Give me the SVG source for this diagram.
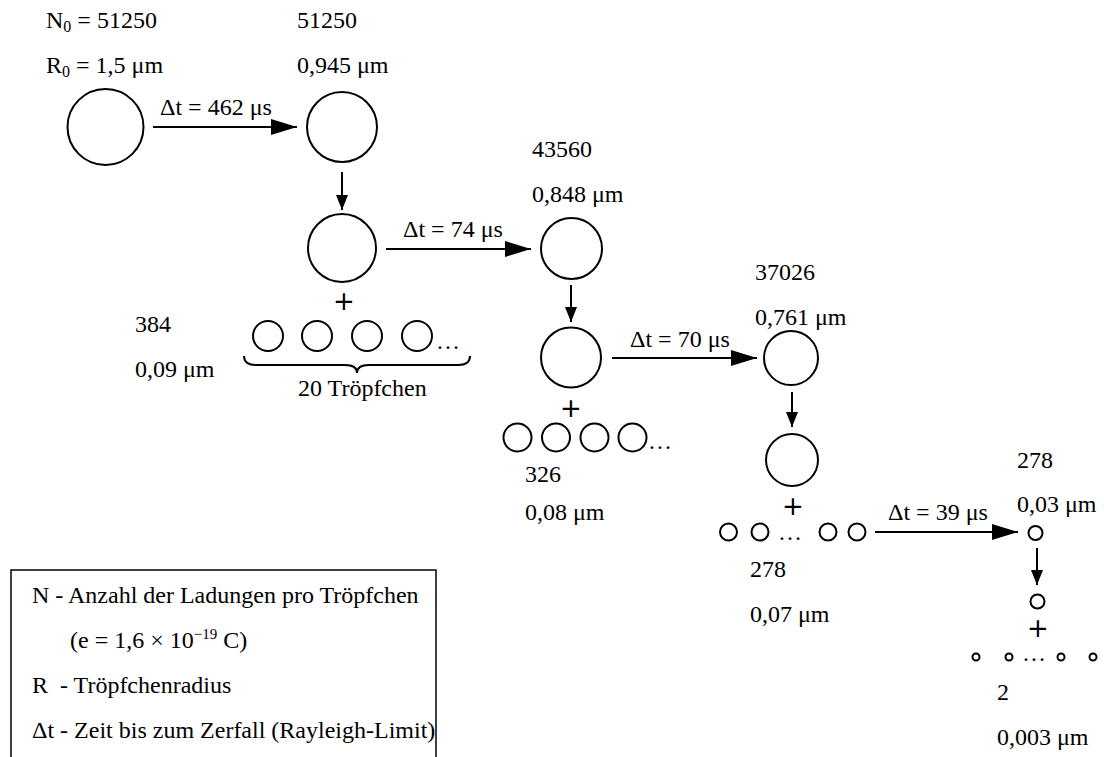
<svg xmlns="http://www.w3.org/2000/svg" width="1104" height="757" viewBox="0 0 1104 757">
<style>
text{font-family:"Liberation Serif","Times New Roman",serif;font-size:24px;fill:#000}
.c{fill:none;stroke:#000;stroke-width:2}
.ln{fill:none;stroke:#000;stroke-width:2}
.plus{font-family:"DejaVu Sans",sans-serif;font-size:26px;text-anchor:middle}
.sub{font-size:16px}
.sup{font-size:15px}
</style>
<defs>
<marker id="ah" markerUnits="userSpaceOnUse" markerWidth="28" markerHeight="20" refX="26" refY="8" orient="auto">
<path d="M0,0 L26,8 L0,16 Z" fill="#000"/>
</marker>
<marker id="av" markerUnits="userSpaceOnUse" markerWidth="16" markerHeight="14" refX="15" refY="6" orient="auto">
<path d="M0,0 L15,6 L0,12 Z" fill="#000"/>
</marker>
</defs>
<rect width="1104" height="757" fill="#fff"/>

<g id="connectors">
<line class="ln" x1="153" y1="127" x2="297" y2="127" marker-end="url(#ah)"/>
<line class="ln" x1="342" y1="172" x2="342" y2="210" marker-end="url(#av)"/>
<line class="ln" x1="386" y1="249" x2="531" y2="249" marker-end="url(#ah)"/>
<line class="ln" x1="571" y1="285" x2="571" y2="322" marker-end="url(#av)"/>
<line class="ln" x1="612" y1="358" x2="757" y2="358" marker-end="url(#ah)"/>
<line class="ln" x1="792" y1="392" x2="792" y2="427" marker-end="url(#av)"/>
<line class="ln" x1="875" y1="532" x2="1018" y2="532" marker-end="url(#ah)"/>
<line class="ln" x1="1037" y1="548" x2="1037" y2="585" marker-end="url(#av)"/>
<text x="160" y="115">Δt = 462 μs</text>
<text x="403" y="237">Δt = 74 μs</text>
<text x="630" y="347">Δt = 70 μs</text>
<text x="888" y="520">Δt = 39 μs</text>
</g>

<g id="drop0">
<circle class="c" cx="105.5" cy="127" r="38"/>
<text x="46" y="28">N<tspan class="sub" dy="4">0</tspan><tspan dy="-4"> = 51250</tspan></text>
<text x="46" y="73">R<tspan class="sub" dy="4">0</tspan><tspan dy="-4"> = 1,5 μm</tspan></text>
</g>

<g id="drop1">
<circle class="c" cx="342" cy="127" r="35"/>
<text x="297" y="28">51250</text>
<text x="297" y="73">0,945 μm</text>
</g>

<g id="split1">
<circle class="c" cx="342" cy="248" r="34"/>
<text class="plus" x="344" y="310">+</text>
<circle class="c" cx="268" cy="336" r="15"/>
<circle class="c" cx="317" cy="336" r="15"/>
<circle class="c" cx="367" cy="336" r="15"/>
<circle class="c" cx="417" cy="336" r="15"/>
<text x="436" y="349">…</text>
<path class="ln" d="M244,356 Q244,365 256,365 L345,365 Q357,365 357,373 Q357,365 369,365 L458,365 Q470,365 470,356" stroke-width="1.6"/>
<text x="298" y="396">20 Tröpfchen</text>
<text x="135" y="332">384</text>
<text x="135" y="377">0,09 μm</text>
</g>

<g id="drop2">
<circle class="c" cx="571.5" cy="248.5" r="30.5"/>
<text x="532" y="157">43560</text>
<text x="532" y="202">0,848 μm</text>
</g>

<g id="split2">
<circle class="c" cx="571" cy="357.5" r="30"/>
<text class="plus" x="571" y="417">+</text>
<circle class="c" cx="517.5" cy="437.5" r="14"/>
<circle class="c" cx="556" cy="437.5" r="14"/>
<circle class="c" cx="594.5" cy="437.5" r="14"/>
<circle class="c" cx="632.5" cy="437.5" r="14"/>
<text x="648" y="449">…</text>
<text x="525" y="482">326</text>
<text x="525" y="520">0,08 μm</text>
</g>

<g id="drop3">
<circle class="c" cx="791" cy="358" r="27"/>
<text x="755" y="280">37026</text>
<text x="755" y="325">0,761 μm</text>
</g>

<g id="split3">
<circle class="c" cx="792" cy="460" r="26"/>
<text class="plus" x="793" y="515">+</text>
<circle class="c" cx="728.5" cy="532" r="8.5"/>
<circle class="c" cx="760" cy="532" r="8.5"/>
<text x="778" y="540">…</text>
<circle class="c" cx="828" cy="532" r="8.5"/>
<circle class="c" cx="857" cy="532" r="8.5"/>
<text x="750" y="577">278</text>
<text x="750" y="622">0,07 μm</text>
</g>

<g id="drop4">
<circle class="c" cx="1035.5" cy="533" r="7"/>
<text x="1017" y="468">278</text>
<text x="1017" y="512">0,03 μm</text>
</g>

<g id="split4">
<circle class="c" cx="1037.5" cy="601.5" r="7"/>
<text class="plus" x="1038" y="637">+</text>
<circle class="c" cx="976" cy="657" r="3.5"/>
<circle class="c" cx="1009" cy="657" r="3.5"/>
<text x="1022" y="661">…</text>
<circle class="c" cx="1061" cy="657" r="3.5"/>
<circle class="c" cx="1093" cy="657" r="3.5"/>
<text x="997" y="700">2</text>
<text x="997" y="745">0,003 μm</text>
</g>

<g id="legend">
<rect x="11" y="570" width="425" height="200" fill="none" stroke="#000" stroke-width="1.5"/>
<text x="32" y="603">N - Anzahl der Ladungen pro Tröpfchen</text>
<text x="70" y="648">(e = 1,6 × 10<tspan class="sup" dy="-9">−19</tspan><tspan dy="9"> C)</tspan></text>
<text x="32" y="693" xml:space="preserve">R  - Tröpfchenradius</text>
<text x="32" y="738">Δt - Zeit bis zum Zerfall (Rayleigh-Limit)</text>
</g>
</svg>
